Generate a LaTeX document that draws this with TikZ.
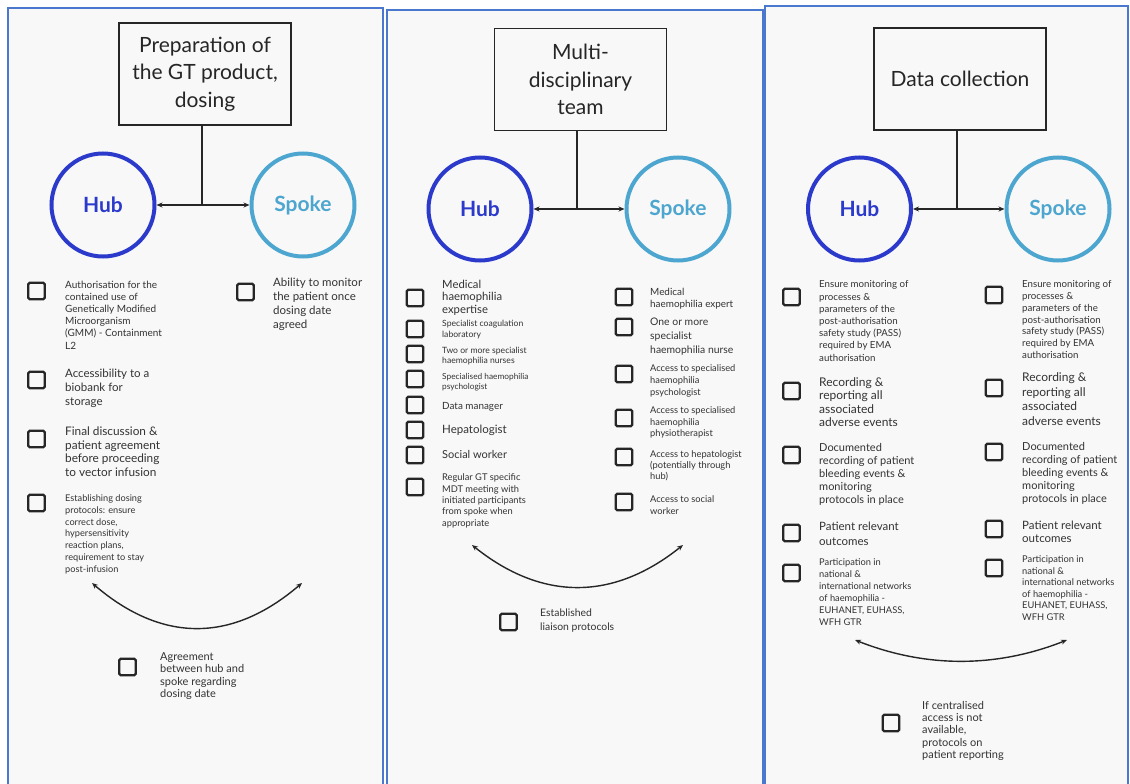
\documentclass[tikz,border=0pt]{standalone}
\usepackage{fontspec}
\setmainfont{Lato}
\usetikzlibrary{arrows.meta}

\definecolor{panelblue}{HTML}{4A78CF}
\definecolor{hubblue}{HTML}{2B3ACB}
\definecolor{spokeblue}{HTML}{4DA6CF}
\definecolor{ink}{HTML}{333333}
\definecolor{paper}{HTML}{F8F8F8}

\tikzset{
  panel/.style={draw=panelblue, line width=1.8pt, fill=paper},
  titlebox/.style={draw=black!85, line width=1.8pt, align=center, inner sep=0pt,
    minimum width=172pt, minimum height=102pt,
    font=\fontsize{21}{27.5}\selectfont, text=black!85},
  hubnode/.style={circle, draw=hubblue, line width=4pt, minimum size=103pt, inner sep=0pt,
    text=hubblue, font=\fontsize{21}{24}\selectfont\bfseries},
  spokenode/.style={circle, draw=spokeblue, line width=4pt, minimum size=103pt, inner sep=0pt,
    text=spokeblue, font=\fontsize{21}{24}\selectfont\bfseries},
  link/.style={line width=1.4pt, draw=black!85},
  twoway/.style={link, {Stealth[length=6pt,width=5pt]}-{Stealth[length=6pt,width=5pt]}},
  chkbox/.style={draw=black!85, line width=2.2pt, rounded corners=1.5pt, minimum size=16.5pt, inner sep=0pt},
  itemtext/.style={anchor=north west, align=left, inner sep=0pt, text=ink},
}

% #1 name, #2/#3 box centre, #4 text left, #5 first-line centre, #6 size, #7 skip, #8 text
\newcommand\ckitem[8]{%
  \node[chkbox] (#1b) at (#2,#3) {};
  \node[itemtext, font=\fontsize{#6}{#7}\selectfont] (#1t) at (#4,{#5-0.45*#6}) {#8};}

\begin{document}
\begin{tikzpicture}[x=1pt,y=-1pt]
\useasboundingbox (0,0) rectangle (1130,784);
\fill[white] (0,0) rectangle (1130,784);

% ---------- frames ----------
\draw[panel] (8,8) rectangle (383,795);
\draw[panel] (387,10) rectangle (763,795);
\draw[panel] (765,6) rectangle (1128,795);

% ---------- column 1: preparation and dosing ----------
\node[titlebox] (t1) at (205,74) {Preparation of\\the GT product,\\dosing};
\node[hubnode] (h1) at (103,205) {Hub};
\node[spokenode] (s1) at (303,205) {Spoke};
\coordinate (j1) at (202,205);
\draw[link] (t1.south -| j1) -- (j1);
\draw[twoway] (h1) -- (s1);

\ckitem{p1a}{36.5}{291}{65}{285}{10}{12.2}{Authorisation for the\\contained use of\\Genetically Modified\\Microorganism\\(GMM) - Containment\\L2}
\ckitem{p1b}{36.5}{380}{65}{374}{11.5}{14}{Accessibility to a\\biobank for\\storage}
\ckitem{p1c}{36.5}{439}{65}{432}{11.8}{13.5}{Final discussion \&\\patient agreement\\before proceeding\\to vector infusion}
\ckitem{p1d}{36.5}{503}{65}{499}{9.2}{11.7}{Establishing dosing\\protocols: ensure\\correct dose,\\hypersensitivity\\reaction plans,\\requirement to stay\\post-infusion}
\ckitem{p1e}{245.5}{292}{273}{283}{11.5}{14}{Ability to monitor\\the patient once\\dosing date\\agreed}

\coordinate (a1l) at (92,583);
\coordinate (a1r) at (302,583);
\draw[twoway] (a1l) .. controls (162,643) and (232,643) .. (a1r);
\ckitem{p1f}{127.5}{667}{160}{657}{11}{12.5}{Agreement\\between hub and\\spoke regarding\\dosing date}

% ---------- column 2: multidisciplinary team ----------
\node[titlebox] (t2) at (580.5,79.5) {Multi-\\disciplinary\\team};
\node[hubnode] (h2) at (480,209) {Hub};
\node[spokenode] (s2) at (678,209) {Spoke};
\coordinate (j2) at (577,209);
\draw[link] (t2.south -| j2) -- (j2);
\draw[twoway] (h2) -- (s2);

\ckitem{m1}{415}{298}{442}{285}{11.3}{12.5}{Medical\\haemophilia\\expertise}
\ckitem{m2}{415}{329}{442}{324}{8.6}{11}{Specialist coagulation\\laboratory}
\ckitem{m3}{415}{354}{442}{351}{8.6}{9.5}{Two or more specialist\\haemophilia nurses}
\ckitem{m4}{415}{379}{442}{377}{8.3}{10}{Specialised haemophilia\\psychologist}
\ckitem{m5}{415}{405}{442}{407}{9.9}{12}{Data manager}
\ckitem{m6}{415}{430}{442}{430}{11.5}{13}{Hepatologist}
\ckitem{m7}{415}{455}{442}{455}{11}{13}{Social worker}
\ckitem{m8}{415}{487}{442}{478}{9.3}{11.3}{Regular GT specific\\MDT meeting with\\initiated participants\\from spoke when\\appropriate}

\ckitem{n1}{624}{297}{650}{292}{9.9}{12}{Medical\\haemophilia expert}
\ckitem{n2}{624}{327}{650}{322}{10.4}{14}{One or more\\specialist\\haemophilia nurse}
\ckitem{n3}{624}{374}{650}{369}{9.3}{12}{Access to specialised\\haemophilia\\psychologist}
\ckitem{n4}{624}{418}{650}{411}{9.3}{11.5}{Access to specialised\\haemophilia\\physiotherapist}
\ckitem{n5}{624}{457}{650}{455}{9.3}{11}{Access to hepatologist\\(potentially through\\hub)}
\ckitem{n6}{624}{502}{650}{500}{9.3}{12}{Access to social\\worker}

\coordinate (a2l) at (472,545);
\coordinate (a2r) at (683,545);
\draw[twoway] (a2l) .. controls (542,601) and (613,601) .. (a2r);
\ckitem{m9}{508.5}{622}{540}{613}{10.4}{14}{Established\\liaison protocols}

% ---------- column 3: data collection ----------
\node[titlebox] (t3) at (960,79) {Data collection};
\node[hubnode] (h3) at (859.5,209) {Hub};
\node[spokenode] (s3) at (1058,209) {Spoke};
\coordinate (j3) at (957,209);
\draw[link] (t3.south -| j3) -- (j3);
\draw[twoway] (h3) -- (s3);

\ckitem{d1}{791.5}{297}{819}{285}{9.7}{12.2}{Ensure monitoring of\\processes \&\\parameters of the\\post-authorisation\\safety study (PASS)\\required by EMA\\authorisation}
\ckitem{d2}{791.5}{391}{819}{383}{12}{13.3}{Recording \&\\reporting all\\associated\\adverse events}
\ckitem{d3}{791.5}{455}{819}{448}{11}{13}{Documented\\recording of patient\\bleeding events \&\\monitoring\\protocols in place}
\ckitem{d4}{791.5}{533}{819}{527}{11.5}{15}{Patient relevant\\outcomes}
\ckitem{d5}{791.5}{573}{819}{563}{9.3}{12}{Participation in\\national \&\\international networks\\of haemophilia -\\EUHANET, EUHASS,\\WFH GTR}

\ckitem{e1}{994}{295}{1022}{285}{9.7}{11.7}{Ensure monitoring of\\processes \&\\parameters of the\\post-authorisation\\safety study (PASS)\\required by EMA\\authorisation}
\ckitem{e2}{994}{388}{1022}{378}{12}{14.5}{Recording \&\\reporting all\\associated\\adverse events}
\ckitem{e3}{994}{452}{1022}{447}{11}{13}{Documented\\recording of patient\\bleeding events \&\\monitoring\\protocols in place}
\ckitem{e4}{994}{529}{1022}{526}{11.5}{12.5}{Patient relevant\\outcomes}
\ckitem{e5}{994}{568}{1022}{560}{9.3}{11.5}{Participation in\\national \&\\international networks\\of haemophilia -\\EUHANET, EUHASS,\\WFH GTR}

\coordinate (a3l) at (855,640);
\coordinate (a3r) at (1067,640);
\draw[twoway] (a3l) .. controls (926,668) and (996,668) .. (a3r);
\ckitem{d6}{891}{723}{922}{706}{11}{12.3}{If centralised\\access is not\\available,\\protocols on\\patient reporting}

\end{tikzpicture}
\end{document}
